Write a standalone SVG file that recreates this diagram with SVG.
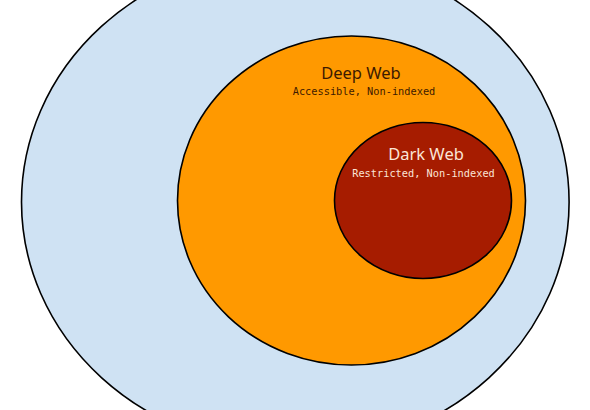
<svg xmlns="http://www.w3.org/2000/svg" width="590" height="410" viewBox="0 0 590 410">
  <style>
    .ring { stroke: #000; stroke-width: 1.6; }
    .title { font-family: "Noto Sans", "Open Sans", "DejaVu Sans", sans-serif; font-size: 16.5px; text-anchor: middle; }
    .sub { font-family: "DejaVu Sans Mono", "Liberation Mono", monospace; font-size: 10.3px; text-anchor: middle; }
  </style>
  <rect width="590" height="410" fill="#ffffff"/>
  <g id="surface-web">
    <ellipse class="ring" cx="295.3" cy="202" rx="273.8" ry="248.6" fill="#cfe2f3"/>
  </g>
  <g id="deep-web">
    <ellipse class="ring" cx="351.5" cy="200.5" rx="174" ry="164.5" fill="#ff9900"/>
    <text class="title" x="361" y="79" fill="#3d1a00">Deep Web</text>
    <text class="sub" x="364" y="95" fill="#3d1a00">Accessible, Non-indexed</text>
  </g>
  <g id="dark-web">
    <ellipse class="ring" cx="423" cy="200.5" rx="88.5" ry="78" fill="#a61c00"/>
    <text class="title" x="426" y="160" fill="#fbe5d6">Dark Web</text>
    <text class="sub" x="423.5" y="177" fill="#fbe5d6">Restricted, Non-indexed</text>
  </g>
</svg>
